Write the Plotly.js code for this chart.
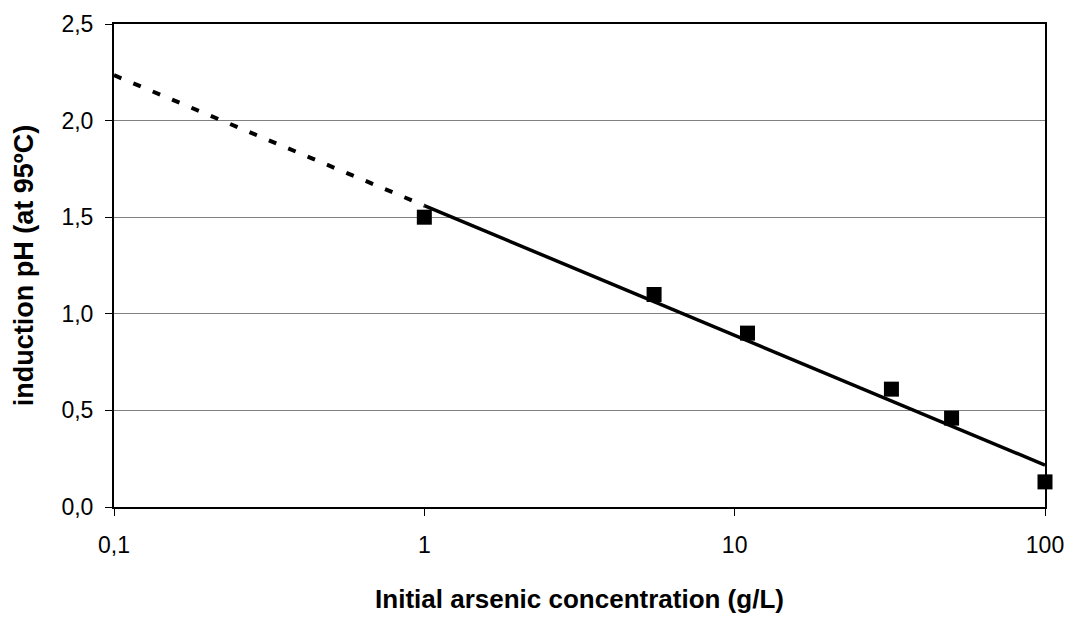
<!DOCTYPE html>
<html>
<head>
<meta charset="utf-8">
<script src="https://cdn.plot.ly/plotly-3.0.1.min.js"></script>
<style>html,body{margin:0;padding:0;background:#fff;}#chart{width:1070px;height:617px;}</style>
</head>
<body>
<div id="chart"></div>
<script>
// measured data
const concentration = [1, 5.5, 11, 32, 50, 100];
const inductionPH = [1.5, 1.1, 0.9, 0.61, 0.46, 0.13];
// logarithmic trend line
const trendSolidX = [1, 100];
const trendSolidY = [1.56, 0.217];
const trendDashX = [0.1, 1];
const trendDashY = [2.235, 1.56];
// axis ticks
const xTickVals = [0.1, 1, 10, 100];
const xTickText = ['0,1', '1', '10', '100'];
const yTickVals = [0, 0.5, 1.0, 1.5, 2.0, 2.5];
const yTickText = ['0,0', '0,5', '1,0', '1,5', '2,0', '2,5'];

const font = 'Arial, "Liberation Sans", sans-serif';

const traces = [
  {x: trendDashX, y: trendDashY, mode: 'lines', type: 'scatter',
   line: {color: '#000', width: 4, dash: '8px,13px'}, hoverinfo: 'skip'},
  {x: trendSolidX, y: trendSolidY, mode: 'lines', type: 'scatter',
   line: {color: '#000', width: 3.5}, hoverinfo: 'skip'},
  {x: concentration, y: inductionPH, mode: 'markers', type: 'scatter', cliponaxis: false,
   marker: {symbol: 'square', size: 15, color: '#000'}}
];

const layout = {
  width: 1070, height: 617,
  margin: {l: 114, r: 25, t: 24, b: 110},
  paper_bgcolor: '#fff', plot_bgcolor: '#fff',
  showlegend: false,
  font: {family: font, color: '#000', size: 23},
  xaxis: {
    type: 'log', range: [-1, 2],
    tickvals: xTickVals, ticktext: xTickText,
    ticks: 'outside', ticklen: 7, tickwidth: 1, tickcolor: '#000',
    ticklabelstandoff: 9,
    showgrid: false, zeroline: false,
    showline: true, linecolor: '#000', linewidth: 2, mirror: true,
    tickfont: {family: font, size: 23},
    title: {text: '<b>Initial arsenic concentration (g/L)</b>', font: {family: font, size: 26}, standoff: 33}
  },
  yaxis: {
    range: [0, 2.5],
    tickvals: yTickVals, ticktext: yTickText,
    ticks: 'outside', ticklen: 7, tickwidth: 1, tickcolor: '#000',
    ticklabelstandoff: 7,
    showgrid: true, gridcolor: '#808080', gridwidth: 1,
    zeroline: false,
    showline: true, linecolor: '#000', linewidth: 2, mirror: true,
    tickfont: {family: font, size: 23},
    title: {text: '<b>induction pH (at 95ºC)</b>', font: {family: font, size: 27}, standoff: 20}
  }
};

Plotly.newPlot('chart', traces, layout, {displayModeBar: false, staticPlot: true});
</script>
</body>
</html>
